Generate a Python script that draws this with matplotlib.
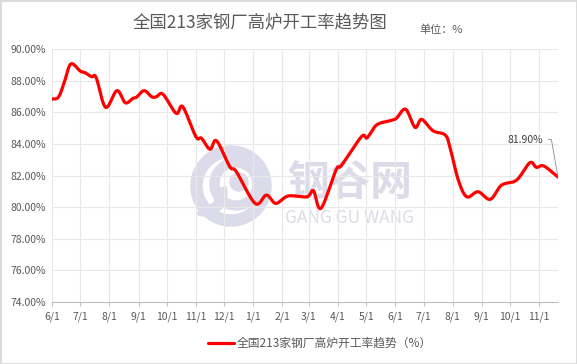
import numpy as np
import pandas as pd
import matplotlib
matplotlib.use("Agg")
import matplotlib.pyplot as plt
import matplotlib.dates as mdates
from matplotlib.patches import Circle, Wedge, Rectangle

plt.rcParams['font.family'] = ['Noto Sans CJK SC', 'DejaVu Sans']

# weekly blast furnace utilisation (%)
dates = ['2020-06-01', '2020-06-08', '2020-06-14', '2020-06-21', '2020-07-01', '2020-07-06',
         '2020-07-13', '2020-07-18', '2020-07-28', '2020-08-09', '2020-08-18', '2020-08-26',
         '2020-08-30', '2020-09-07', '2020-09-15', '2020-09-20', '2020-09-27', '2020-10-11',
         '2020-10-18', '2020-11-01', '2020-11-07', '2020-11-16', '2020-11-23', '2020-12-07',
         '2020-12-14', '2021-01-03', '2021-01-15', '2021-01-25', '2021-02-07', '2021-02-27',
         '2021-03-06', '2021-03-14', '2021-03-30', '2021-04-05', '2021-04-26', '2021-05-02',
         '2021-05-12', '2021-05-26', '2021-06-02', '2021-06-12', '2021-06-22', '2021-06-29',
         '2021-07-11', '2021-07-24', '2021-07-29', '2021-08-07', '2021-08-16', '2021-08-28',
         '2021-09-10', '2021-09-22', '2021-10-08', '2021-10-22', '2021-10-29', '2021-11-06',
         '2021-11-21']
rate = [86.85, 86.98, 87.90, 89.07, 88.62, 88.52, 88.26, 88.20, 86.32, 87.38, 86.61, 86.89,
        86.97, 87.38, 86.99, 86.99, 87.15, 85.94, 86.36, 84.46, 84.36, 83.66, 84.20, 82.56,
        82.24, 80.23, 80.76, 80.23, 80.70, 80.65, 81.03, 79.92, 82.35, 82.66, 84.46, 84.39,
        85.20, 85.47, 85.62, 86.20, 85.05, 85.56, 84.84, 84.57, 83.82, 81.71, 80.65, 80.97,
        80.49, 81.39, 81.71, 82.81, 82.52, 82.60, 81.90]
tick_dates = ['2020-06-01', '2020-07-01', '2020-08-01', '2020-09-01', '2020-10-01', '2020-11-01',
              '2020-12-01', '2021-01-01', '2021-02-01', '2021-03-01', '2021-04-01', '2021-05-01',
              '2021-06-01', '2021-07-01', '2021-08-01', '2021-09-01', '2021-10-01', '2021-11-01']
tick_labels = ['6/1', '7/1', '8/1', '9/1', '10/1', '11/1', '12/1', '1/1', '2/1', '3/1',
               '4/1', '5/1', '6/1', '7/1', '8/1', '9/1', '10/1', '11/1']


def smooth(x, y, n=12):
    # Catmull-Rom spline, like a spreadsheet "smoothed line"
    x = np.asarray(x, float)
    y = np.asarray(y, float)
    px = np.concatenate([[2 * x[0] - x[1]], x, [2 * x[-1] - x[-2]]])
    py = np.concatenate([[y[0]], y, [2 * y[-1] - y[-2]]])
    t = np.linspace(0, 1, n, endpoint=False)
    xs, ys = [], []
    for i in range(1, len(px) - 2):
        for p, out in ((px, xs), (py, ys)):
            p0, p1, p2, p3 = p[i - 1], p[i], p[i + 1], p[i + 2]
            out.extend(0.5 * (2 * p1 + (-p0 + p2) * t + (2 * p0 - 5 * p1 + 4 * p2 - p3) * t ** 2
                              + (-p0 + 3 * p1 - 3 * p2 + p3) * t ** 3))
    xs.append(x[-1])
    ys.append(y[-1])
    return np.array(xs), np.array(ys)


xd = mdates.date2num(pd.to_datetime(dates))
xt = mdates.date2num(pd.to_datetime(tick_dates))
xs, ys = smooth(xd, rate)

fig = plt.figure(figsize=(5.77, 3.64), dpi=100)
ax = fig.add_axes([52 / 577, (364 - 301.7) / 364, (558 - 52) / 577, (301.7 - 49.3) / 364])

gray = '#595959'
# watermark logo + text
wm = '#dcdbe9'
inch = fig.dpi_scale_trans
ax.add_patch(Wedge((2.31, 1.78), 0.40, 0, 360, width=0.11, transform=inch, color=wm, zorder=0))
ax.add_patch(Wedge((2.36, 1.80), 0.26, 0, 360, width=0.09, transform=inch, color=wm, zorder=0))
ax.add_patch(Wedge((2.05, 1.70), 0.22, 250, 20, width=0.10, transform=inch, color=wm, zorder=0))
ax.add_patch(Circle((2.39, 1.82), 0.09, transform=inch, color=wm, zorder=0))
ax.text(0.465, 0.47, '钢谷网', transform=ax.transAxes, fontsize=30, color=wm,
        fontweight='bold', va='center', ha='left', zorder=0)
ax.text(0.46, 0.33, 'GANG GU WANG', transform=ax.transAxes, fontsize=12.5, color=wm,
        va='center', ha='left', zorder=0)

ax.plot(xs, ys, color='#ff0000', lw=2.3, solid_capstyle='round', zorder=3,
        label='全国213家钢厂高炉开工率趋势（%）')

ax.set_ylim(74, 90)
ax.set_yticks(np.arange(74, 90.1, 2))
ax.set_yticklabels(['%.2f%%' % v for v in np.arange(74, 90.1, 2)])
ax.set_xlim(xt[0], xd[-1])
ax.set_xticks(xt)
ax.set_xticklabels(tick_labels)
ax.grid(True, color='#e8e8e8', lw=0.8)
ax.set_axisbelow(True)
for s in ['top', 'right', 'left']:
    ax.spines[s].set_visible(False)
ax.spines['bottom'].set_color('#bfbfbf')
ax.tick_params(axis='both', colors=gray, labelsize=7.5, length=0, pad=4)
ax.tick_params(axis='x', length=3, color='#bfbfbf')

ax.annotate('81.90%', xy=(xd[-1], rate[-1]), xytext=(-11, 27), textcoords='offset points',
            ha='right', va='center', fontsize=7.5, color='#404040',
            arrowprops=dict(arrowstyle='-', color='#8c8c8c', lw=0.6, shrinkA=2, shrinkB=0,
                            connectionstyle='angle,angleA=0,angleB=100,rad=0'))

fig.text(0.451, 0.94, '全国213家钢厂高炉开工率趋势图', ha='center', va='center',
         fontsize=12.5, color=gray)
fig.text(0.765, 0.917, '单位：%', ha='center', va='center', fontsize=8, color=gray)

leg = fig.legend(loc='center', bbox_to_anchor=(0.554, 0.057), frameon=False,
                 fontsize=8.5, handlelength=2.2, handletextpad=0.2)
for t in leg.get_texts():
    t.set_color(gray)

fig.patches.append(Rectangle((0, 0), 1, 1, transform=fig.transFigure, fill=False,
                             edgecolor='#d9d9d9', lw=2))

fig.savefig('out.png', dpi=100)
